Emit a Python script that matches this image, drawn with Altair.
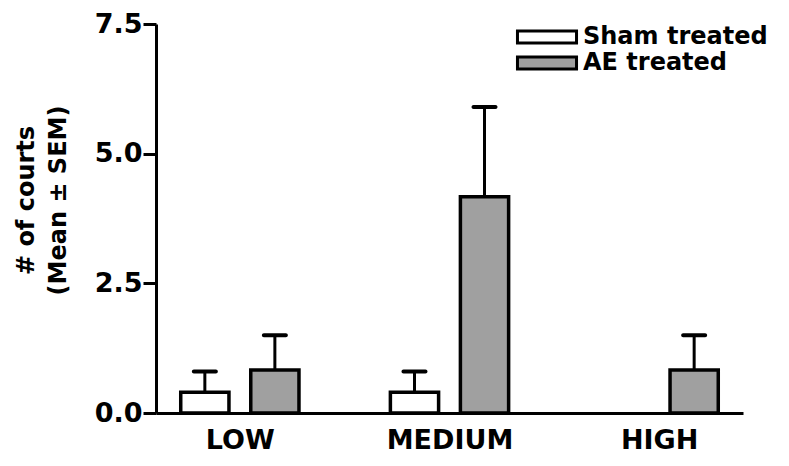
import altair as alt
import pandas as pd

groups = ["LOW", "MEDIUM", "HIGH"]
series = ["Sham treated", "AE treated"]
sham_mean = [0.4, 0.4, 0.0]
sham_sem = [0.4, 0.4, 0.0]
ae_mean = [0.83, 4.17, 0.83]
ae_sem = [0.67, 1.73, 0.67]
y_ticks = [0.0, 2.5, 5.0, 7.5]

rows = []
for i, g in enumerate(groups):
    rows.append({"gi": i, "group": g, "series": series[0], "si": 0,
                 "mean": sham_mean[i], "sem": sham_sem[i]})
    rows.append({"gi": i, "group": g, "series": series[1], "si": 1,
                 "mean": ae_mean[i], "sem": ae_sem[i]})
df = pd.DataFrame(rows)

FONT = "DejaVu Sans"
label_expr = "[" + ",".join(f"'{g}'" for g in groups) + "][datum.value]"

base = alt.Chart(df).transform_calculate(
    xc="datum.gi + (datum.si == 0 ? -0.167 : 0.167)",
    x1="datum.xc - 0.115",
    x2="datum.xc + 0.115",
    upper="datum.mean + datum.sem",
)

xscale = alt.Scale(domain=[-0.4, 2.4], nice=False, zero=False)
yscale = alt.Scale(domain=[0, 7.5], nice=False)

xaxis = alt.Axis(values=[0, 1, 2], labelExpr=label_expr, ticks=False, grid=False,
                 domainWidth=3, domainColor="black", labelFont=FONT, labelFontSize=27,
                 labelFontWeight="bold", labelColor="black", labelPadding=14,
                 labelBaseline="top", title=None)
yaxis = alt.Axis(values=y_ticks, format=".1f", grid=False, domainWidth=3, domainColor="black",
                 tickWidth=3, tickSize=13, tickColor="black", labelFont=FONT, labelFontSize=27,
                 labelFontWeight="bold", labelColor="black", labelPadding=1,
                 title=["# of courts", "(Mean \u00b1 SEM)"], titleFont=FONT, titleFontSize=24,
                 titleFontWeight="bold", titleColor="black", titleAngle=270, titleAlign="center",
                 titleBaseline="alphabetic", titleX=-123, titleY=176, titleLineHeight=32)

err = base.transform_filter("datum.sem > 0")

rule = err.mark_rule(color="black", strokeWidth=3).encode(
    x=alt.X("xc:Q", scale=xscale, axis=xaxis),
    y=alt.Y("mean:Q", scale=yscale, axis=yaxis),
    y2="upper:Q",
)
cap = err.mark_tick(color="black", thickness=4, size=26, orient="horizontal",
                    cornerRadius=2, opacity=1).encode(
    x=alt.X("xc:Q", scale=xscale),
    y=alt.Y("upper:Q", scale=yscale),
)
bars = base.transform_filter("datum.mean > 0").mark_bar(
    stroke="black", strokeWidth=3.5, opacity=1).encode(
    x=alt.X("x1:Q", scale=xscale, axis=xaxis),
    x2="x2:Q",
    y=alt.Y("mean:Q", scale=yscale, axis=yaxis),
    y2=alt.Y2(datum=0),
    fill=alt.Fill("series:N", scale=alt.Scale(domain=series, range=["white", "#a0a0a0"]),
                  legend=alt.Legend(title=None, orient="none", legendX=379, legendY=1,
                                    symbolType="M-4,-0.8H4V0.8H-4Z", symbolSize=218,
                                    symbolStrokeColor="black", symbolStrokeWidth=3,
                                    labelFont=FONT, labelFontSize=24, labelFontWeight="bold",
                                    labelColor="black", labelOffset=24, rowPadding=2,
                                    labelLimit=0, padding=0)),
)

chart = alt.layer(rule, cap, bars).properties(
    width=587, height=389,
    autosize=alt.AutoSizeParams(type="none"),
    padding={"left": 148, "top": 16, "right": 38, "bottom": 45},
).configure_view(stroke=None)

chart.save("out.html", embed_options={"renderer": "svg", "actions": False})
